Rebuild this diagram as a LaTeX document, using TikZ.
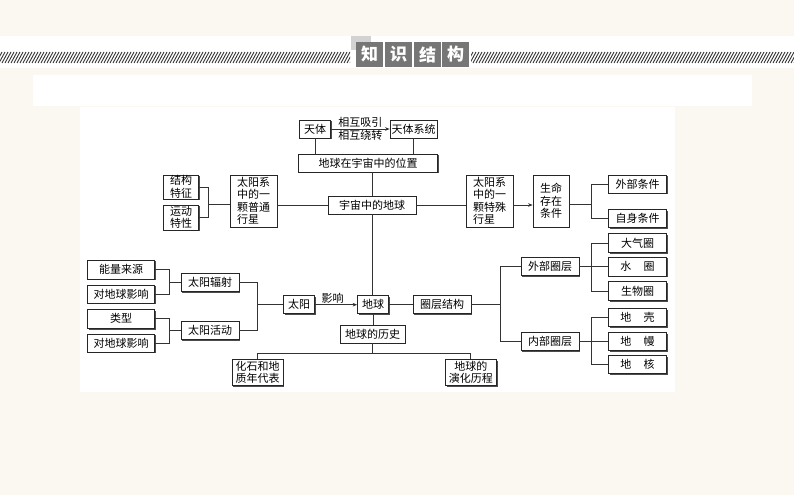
\documentclass[tikz,border=0pt]{standalone}
\usepackage{fontspec}
\newfontfamily\cjk{Noto Sans CJK SC}
\usetikzlibrary{arrows.meta,shadows,calc}
\definecolor{pagecream}{RGB}{250,248,240}
\definecolor{titlegray}{RGB}{118,118,118}

\begin{document}
\begin{tikzpicture}[
  x=1pt, y=-1pt,
  font=\cjk\fontsize{11}{12.5}\selectfont,
  >={Stealth[length=4.5pt,width=3.6pt]},
  kbox/.style={draw=black!85, line width=0.75pt, fill=white, inner sep=0.5pt,
    drop shadow={shadow xshift=1.2pt, shadow yshift=-1.2pt, fill=black!70, opacity=1}},
  boxsize/.style 2 args={minimum width=#1pt, minimum height=#2pt},
  link/.style={draw=black!80, line width=0.8pt},
  arr/.style={link, ->},
  tag/.style={inner sep=1pt},
  hatchline/.style={draw=black!80, line width=0.9pt},
  ttlbox/.style={fill=titlegray, text=white, minimum width=27pt, minimum height=25pt,
    inner sep=0pt, font=\cjk\bfseries\fontsize{17}{17}\selectfont}
]
  \useasboundingbox (0,0) rectangle (794,495);
  % page background
  \fill[pagecream] (0,0) rectangle (794,495);
  \fill[white] (0,36) rectangle (794,68);
  \begin{scope}
    \clip (0,52) rectangle (350,63) (471,52) rectangle (794,63);
    \foreach \hx in {-10,-7,...,800}
      \draw[hatchline] (\hx,63) -- ++(6,-11);
  \end{scope}
  \fill[gray!35] (351,36) rectangle (371,50);
  \node[ttlbox] (ttlzhi) at (369.5,54.5) {知};
  \node[ttlbox] (ttlshi) at (398.5,54.5) {识};
  \node[ttlbox] (ttljie) at (427.5,54.5) {结};
  \node[ttlbox] (ttlgou) at (455.5,54.5) {构};
  \fill[white] (33,75) rectangle (752,106);
  \fill[white] (80,107) rectangle (675,392);

  % top part
  \node[kbox, boxsize={31}{18}] (tianti) at (315,129) {天体};
  \node[kbox, boxsize={47}{18}] (xitong) at (413.5,129) {天体系统};
  \node[kbox, boxsize={139}{18}] (weizhi) at (368,163) {地球在宇宙中的位置};
  \node[kbox, boxsize={88}{18}] (yuzhou) at (372,205) {宇宙中的地球};
  \node[kbox, boxsize={47}{52}, align=left] (putong) at (253.5,201) {太阳系\\中的一\\颗普通\\行星};
  \node[kbox, boxsize={35}{24}, align=center] (jiegou) at (181,187) {结构\\特征};
  \node[kbox, boxsize={35}{25}, align=center] (yundong) at (181,217.5) {运动\\特性};
  \node[kbox, boxsize={47}{52}, align=left] (teshu) at (489.5,201) {太阳系\\中的一\\颗特殊\\行星};
  \node[kbox, boxsize={36}{52}, align=center] (shengming) at (551,201) {生命\\存在\\条件};
  \node[kbox, boxsize={58}{18}] (waibu) at (637.5,184) {外部条件};
  \node[kbox, boxsize={58}{18}] (zishen) at (637.5,218.5) {自身条件};

  % earth layers
  \node[kbox, boxsize={58}{19}] (daqi) at (637.5,243) {大气圈};
  \node[kbox, boxsize={58}{19}] (shui) at (637.5,266.7) {水\hspace{1.1em}圈};
  \node[kbox, boxsize={58}{19}] (shengwu) at (637.5,291) {生物圈};
  \node[kbox, boxsize={58}{18}] (dike) at (637.5,317.5) {地\hspace{1.1em}壳};
  \node[kbox, boxsize={58}{18}] (diman) at (637.5,341.5) {地\hspace{1.1em}幔};
  \node[kbox, boxsize={58}{18}] (dihe) at (637.5,364.5) {地\hspace{1.1em}核};
  \node[kbox, boxsize={58}{18}] (waiquan) at (550,266.7) {外部圈层};
  \node[kbox, boxsize={58}{18}] (neiquan) at (550,341.5) {内部圈层};
  \node[kbox, boxsize={58}{18}] (quanceng) at (442,304.7) {圈层结构};
  \node[kbox, boxsize={31}{18}] (diqiu) at (373,304.7) {地球};

  % sun and history
  \node[kbox, boxsize={31}{18}] (taiyang) at (299,304.7) {太阳};
  \node[kbox, boxsize={58}{18}] (fushe) at (210,282.5) {太阳辐射};
  \node[kbox, boxsize={58}{18}] (huodong) at (210,330.5) {太阳活动};
  \node[kbox, boxsize={67}{19}] (nengliang) at (121,269.5) {能量来源};
  \node[kbox, boxsize={67}{18}] (yingxianga) at (121,294) {对地球影响};
  \node[kbox, boxsize={67}{19}] (leixing) at (121,318.8) {类型};
  \node[kbox, boxsize={67}{18}] (yingxiangb) at (121,343.2) {对地球影响};
  \node[kbox, boxsize={65}{18}] (lishi) at (372.5,334) {地球的历史};
  \node[kbox, boxsize={51}{26}, align=center] (huashi) at (257.7,372.5) {化石和地\\质年代表};
  \node[kbox, boxsize={51}{26}, align=center] (yanhua) at (470.8,372.5) {地球的\\演化历程};

  % connectors
  \draw[arr] (tianti) -- (xitong)
    node[midway, above, tag] {相互吸引} node[midway, below, tag] {相互绕转};
  \draw[link] (tianti.south) -- (tianti.south |- weizhi.north);
  \draw[link] (xitong.south) -- (xitong.south |- weizhi.north);
  \draw[link] (weizhi.south -| yuzhou.north) -- (yuzhou.north);
  \draw[link] (putong.east |- yuzhou.west) -- (yuzhou.west);
  \draw[link] (yuzhou.east) -- (yuzhou.east -| teshu.west);
  \draw[arr] (teshu.east |- yuzhou.east) -- (shengming.west |- yuzhou.east);
  \coordinate (jgb) at (208.5,204.3);
  \draw[link] (jiegou.east) -| (jgb) |- (yundong.east);
  \draw[link] (jgb) -- (jgb -| putong.west);
  \coordinate (smb) at (591.4,204.3);
  \draw[link] (shengming.east |- smb) -- (smb);
  \draw[link] (waibu.west) -| (smb) |- (zishen.west);

  \draw[link] (yuzhou.south) -- (yuzhou.south |- diqiu.north);
  \draw[link] (diqiu.east) -- (quanceng.west);
  \coordinate (qcb) at (500.4,304.7);
  \draw[link] (quanceng.east) -- (qcb);
  \draw[link] (waiquan.west) -| (qcb) |- (neiquan.west);
  \coordinate (wqb) at (591.4,266.7);
  \draw[link] (waiquan.east) -- (wqb);
  \draw[link] (daqi.west) -| (wqb) |- (shengwu.west);
  \draw[link] (wqb) -- (shui.west);
  \coordinate (nqb) at (591.4,341.5);
  \draw[link] (neiquan.east) -- (nqb);
  \draw[link] (dike.west) -| (nqb) |- (dihe.west);
  \draw[link] (nqb) -- (diman.west);

  \draw[arr] (taiyang.east) -- (diqiu.west) node[pos=0.42, above, tag] {影响};
  \coordinate (tyb) at (257.6,304.7);
  \draw[link] (fushe.east) -| (tyb) |- (huodong.east);
  \draw[link] (tyb) -- (taiyang.west);
  \coordinate (fsb) at (169.8,282);
  \draw[link] (nengliang.east) -| (fsb) |- (yingxianga.east);
  \draw[link] (fsb) -- (fsb -| fushe.west);
  \coordinate (hdb) at (169.8,330.5);
  \draw[link] (leixing.east) -| (hdb) |- (yingxiangb.east);
  \draw[link] (hdb) -- (huodong.west);

  \draw[link] (diqiu.south) -- (diqiu.south |- lishi.north);
  \coordinate (lsb) at (372.5,353.3);
  \draw[link] (lishi.south) -- (lsb);
  \draw[link] (huashi.north) |- (lsb) -| (yanhua.north);
\end{tikzpicture}
\end{document}
